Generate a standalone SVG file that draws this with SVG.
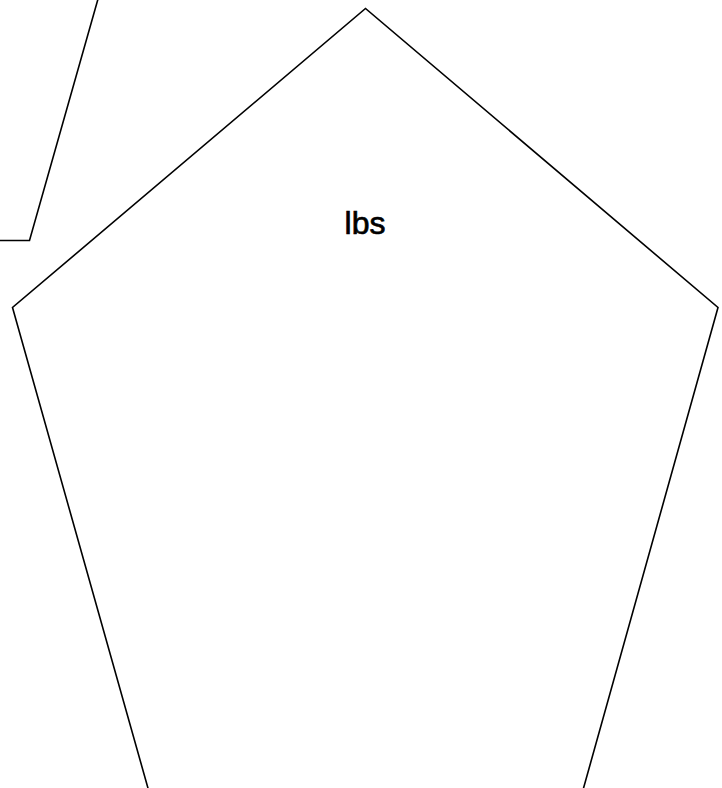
<svg xmlns="http://www.w3.org/2000/svg" width="722" height="788" viewBox="0 0 722 788">
<style>
.shape{fill:none;stroke:#000;stroke-width:1.6;stroke-linejoin:miter}
.lbl{font-family:"Liberation Sans",Arial,sans-serif;font-size:32px;fill:#000;stroke:#000;stroke-width:0.7;text-anchor:middle}
</style>
<rect width="722" height="788" fill="#fff"/>
<g id="partial">
<polyline class="shape" points="98,-1 29.5,240.5 -1,240.5"/>
</g>
<g id="pentagon">
<polyline class="shape" points="148.5,790 12.5,307.5 365.5,8.5 718,307.5 583,790"/>
<text class="lbl" x="365" y="234">lbs</text>
</g>
<g id="connectors"></g>
</svg>
